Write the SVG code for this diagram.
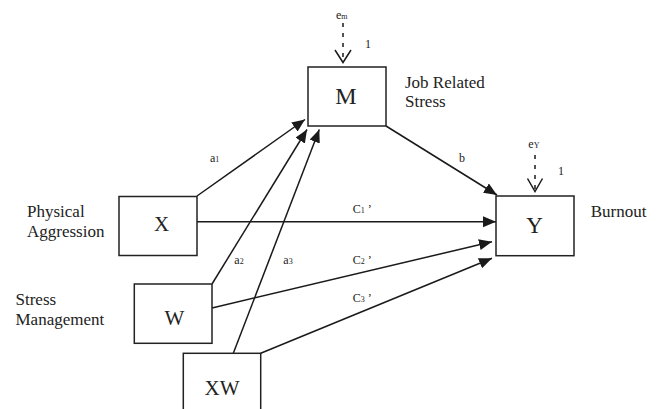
<svg xmlns="http://www.w3.org/2000/svg" width="659" height="409" viewBox="0 0 659 409" font-family="'Liberation Serif', 'DejaVu Serif', serif">
<defs>
<style>
.box{fill:#fff;stroke:#222;stroke-width:1.5}
.ln{stroke:#1a1a1a;stroke-width:1.5;fill:none}
.dash{stroke:#1a1a1a;stroke-width:1.5;fill:none;stroke-dasharray:4 6}
.vh{stroke:#1a1a1a;stroke-width:1.5;fill:none}
text{font-family:'Liberation Serif','DejaVu Serif',serif;fill:#222}
.big{font-size:21px}
.lab{font-size:17px}
.sm{font-size:12px}
.sub{font-size:8px}
</style>
<marker id="ah" markerUnits="userSpaceOnUse" markerWidth="14" markerHeight="12" refX="13" refY="5.5" orient="auto">
<path d="M0,0 L13,5.5 L0,11 z" fill="#1a1a1a"/>
</marker>
</defs>
<rect width="659" height="409" fill="#fff"/>

<g id="connectors">
<line class="ln" x1="197" y1="196" x2="305" y2="119.5" marker-end="url(#ah)"/>
<line class="ln" x1="212" y1="284" x2="307" y2="129.5" marker-end="url(#ah)"/>
<line class="ln" x1="233.3" y1="353.3" x2="319.3" y2="129.5" marker-end="url(#ah)"/>
<line class="ln" x1="386" y1="126" x2="497" y2="195" marker-end="url(#ah)"/>
<line class="ln" x1="197" y1="221.7" x2="496" y2="221.7" marker-end="url(#ah)"/>
<line class="ln" x1="212" y1="308" x2="492" y2="241.7" marker-end="url(#ah)"/>
<line class="ln" x1="260.7" y1="353.3" x2="492" y2="258.3" marker-end="url(#ah)"/>
<line class="dash" x1="343" y1="23" x2="343" y2="61"/>
<polyline class="vh" points="335,50 343,62.5 351,50"/>
<line class="dash" x1="535" y1="155" x2="535" y2="190"/>
<polyline class="vh" points="527.5,178.5 535,191.5 542.5,178.5"/>
<text class="sm" x="210" y="161.7">a<tspan class="sub">1</tspan></text>
<text class="sm" x="234.3" y="264">a<tspan class="sub">2</tspan></text>
<text class="sm" x="283.3" y="263.5">a<tspan class="sub">3</tspan></text>
<text class="sm" x="459" y="162">b</text>
<text class="sm" x="352.7" y="212.5">C<tspan class="sub">1</tspan> ’</text>
<text class="sm" x="352.7" y="263.5">C<tspan class="sub">2</tspan> ’</text>
<text class="sm" x="352.7" y="302">C<tspan class="sub">3</tspan> ’</text>
<text class="sm" x="336" y="19">e<tspan class="sub">m</tspan></text>
<text class="sm" x="528.3" y="148.3">e<tspan class="sub">Y</tspan></text>
<text class="sm" x="365" y="48">1</text>
<text class="sm" x="558" y="175">1</text>
</g>

<g id="node-M">
<rect class="box" x="308" y="67" width="78" height="59"/>
<text style="font-size:24px" x="346" y="104" text-anchor="middle">M</text>
<text class="lab" x="405" y="88.3">Job Related</text>
<text class="lab" x="405" y="106.7">Stress</text>
</g>

<g id="node-X">
<rect class="box" x="119" y="196.5" width="78" height="59"/>
<text class="big" x="161.5" y="230.7" text-anchor="middle">X</text>
<text class="lab" x="27" y="217">Physical</text>
<text class="lab" x="27" y="237">Aggression</text>
</g>

<g id="node-W">
<rect class="box" x="134.3" y="284" width="77.7" height="59.3"/>
<text class="big" x="174.5" y="325" text-anchor="middle">W</text>
<text class="lab" x="15.5" y="305">Stress</text>
<text class="lab" x="15.5" y="325">Management</text>
</g>

<g id="node-XW">
<rect class="box" x="183.3" y="353.3" width="77.4" height="62"/>
<text class="big" x="222" y="395" text-anchor="middle">XW</text>
</g>

<g id="node-Y">
<rect class="box" x="496" y="196" width="78" height="59.7"/>
<text style="font-size:23px" x="534.5" y="233.3" text-anchor="middle">Y</text>
<text class="lab" x="590.7" y="216.7">Burnout</text>
</g>
</svg>
